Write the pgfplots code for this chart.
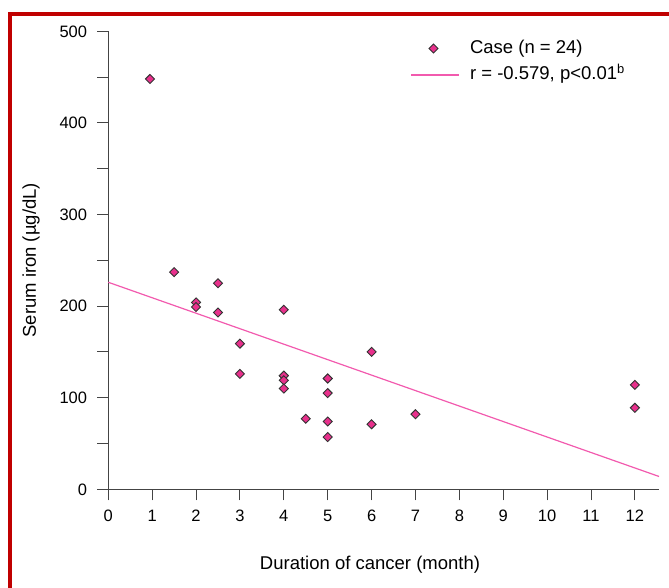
\documentclass[border=0pt]{standalone}
\usepackage{fontspec}
\setmainfont{Liberation Sans}
\usepackage{pgfplots}
\pgfplotsset{compat=1.18}
\definecolor{frame}{HTML}{C00000}
\definecolor{casefill}{HTML}{E8308C}
\definecolor{fitline}{HTML}{F25AAE}
\definecolor{axisgray}{HTML}{444444}

\begin{document}
\begin{tikzpicture}[x=1bp,y=1bp]
\useasboundingbox (0,0) rectangle (669,588);
\draw[frame, line width=4bp] (10,0) -- (10,574) -- (669,574);
\begin{axis}[
  at={(108.3bp,98.7bp)}, anchor=south west,
  scale only axis, width=550.7bp, height=458bp,
  xmin=0, xmax=12.55, ymin=0, ymax=500,
  axis lines=left, axis line style={-, axisgray, line width=1.2bp},
  tick style={axisgray, line width=1bp},
  tick align=outside, major tick length=11bp, minor tick length=11bp,
  xtick={0,1,...,12}, ytick={0,100,...,500}, minor ytick={50,150,...,450},
  /pgf/number format/assume math mode=true,
  tick label style={font=\fontsize{16.5bp}{20bp}\selectfont, inner sep=0pt,
                    text height=11.8bp, text depth=0pt},
  xticklabel shift=9.7bp, yticklabel shift=10bp,
  xlabel={Duration of cancer (month)},
  ylabel={Serum iron (µg/dL)},
  every axis x label/.style={at={(axis description cs:0.4752,-0.1753)}, anchor=base,
                             font=\fontsize{18.5bp}{22bp}\selectfont},
  every axis y label/.style={at={(axis description cs:-0.1313,0.5)}, anchor=base, rotate=90,
                             font=\fontsize{18.5bp}{22bp}\selectfont},
  legend style={at={(axis description cs:0.549,0.982)}, anchor=north west,
                draw=none, fill=none, inner sep=0pt, row sep=9bp, column sep=10bp,
                font=\fontsize{18.5bp}{22bp}\selectfont,
                nodes={inner sep=0pt, text height=13.5bp, text depth=4bp}},
  legend cell align=left,
  clip=false
]
\addplot[only marks, mark=square*, mark size=3.2bp,
  mark options={rotate=45, fill=casefill, draw=black!80, line width=0.9bp},
  legend image code/.code={\draw[only marks] plot coordinates {(22bp,0bp)};}]
coordinates {
(0.95,448) (1.5,237) (2,204) (2,199) (2.5,225) (2.5,193) (3,159) (3,126)
(4,196) (4,124) (4,124) (4,119) (4,110) (4.5,77) (5,121) (5,121) (5,105)
(5,74) (5,57) (6,150) (6,71) (7,82) (12,114) (12,89)};
\addlegendentry{Case (n = 24)}
\addplot[color=fitline, line width=1.2bp, no marks,
  legend image code/.code={\draw[color=fitline, line width=1.2bp] (0bp,0bp) -- (48bp,0bp);}]
coordinates {(0,226) (12.55,14)};
\addlegendentry{r = -0.579, p<0.01\textsuperscript{b}}
\end{axis}
\end{tikzpicture}
\end{document}
